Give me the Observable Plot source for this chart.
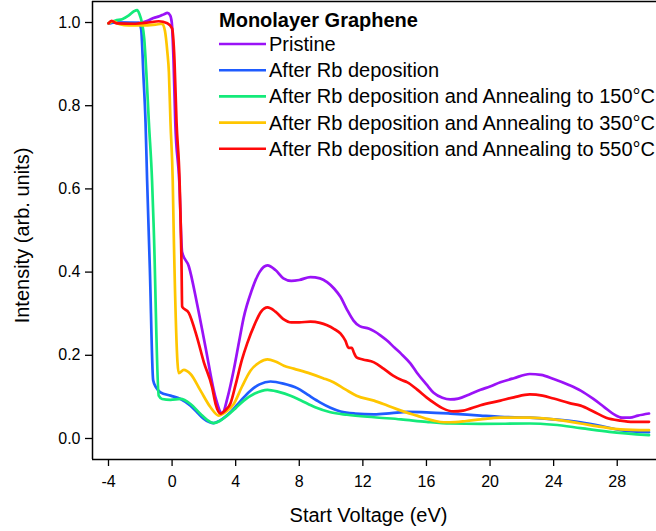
<!DOCTYPE html>
<html><head><meta charset="utf-8">
<script src="https://cdn.jsdelivr.net/npm/d3@7"></script>
<script src="https://cdn.jsdelivr.net/npm/@observablehq/plot@0.6"></script>
<style>body{margin:0;background:#fff}</style>
</head><body><div id="chart"></div>
<script>
const legendTitle = "Monolayer Graphene";
const seriesNames = ["Pristine","After Rb deposition","After Rb deposition and Annealing to 150°C","After Rb deposition and Annealing to 350°C","After Rb deposition and Annealing to 550°C"];
const seriesColors = ["#9a12f7","#1f5cff","#14ea7a","#ffc600","#ff0a0a"];
const xTicks = [-4,0,4,8,12,16,20,24,28];
const yTicks = [0,0.2,0.4,0.6,0.8,1.0];

const pristine = [[-4,0.998],[-3.6,1.0],[-3.0,0.999],[-2.5,0.998],[-1.9,1.0],[-1.5,1.005],[-1.17,1.011],[-0.8,1.015],[-0.5,1.02],[-0.3,1.023],[-0.12,1.017],[-0.02,1.0],[0.09,0.91],[0.2,0.76],[0.45,0.62],[0.63,0.448],[1.05,0.414],[1.57,0.324],[2.1,0.22],[2.73,0.099],[3.15,0.06],[3.5,0.1],[3.88,0.165],[4.2,0.23],[4.5,0.29],[5.0,0.355],[5.5,0.4],[6.0,0.416],[6.5,0.405],[7.0,0.385],[7.5,0.379],[8.0,0.381],[8.7,0.388],[9.3,0.385],[9.75,0.376],[10.2,0.36],[10.6,0.34],[11.0,0.31],[11.4,0.284],[11.8,0.27],[12.4,0.264],[12.7,0.258],[13.1,0.248],[13.5,0.236],[14.0,0.218],[14.4,0.204],[15.0,0.18],[15.4,0.158],[16.0,0.13],[16.45,0.11],[17.0,0.098],[17.5,0.094],[18.0,0.096],[18.7,0.106],[19.4,0.117],[20.0,0.125],[20.65,0.135],[21.5,0.145],[22.5,0.155],[23.2,0.153],[24.0,0.143],[25.0,0.128],[25.7,0.115],[26.5,0.095],[27.2,0.075],[27.8,0.058],[28.3,0.05],[28.8,0.05],[29.3,0.055],[30.0,0.06]];
const rbDeposition = [[-4,0.998],[-3.5,1.0],[-3.0,1.0],[-2.5,1.0],[-2.1,0.999],[-1.95,0.985],[-1.8,0.87],[-1.67,0.76],[-1.57,0.62],[-1.4,0.41],[-1.19,0.14],[-1.0,0.122],[-0.73,0.111],[-0.1,0.103],[0.53,0.095],[1.16,0.079],[1.6,0.062],[2.0,0.047],[2.62,0.037],[3.0,0.043],[3.67,0.063],[4.3,0.09],[4.93,0.115],[5.5,0.13],[6.19,0.137],[7.0,0.132],[7.87,0.121],[8.5,0.106],[9.3,0.087],[9.96,0.074],[10.6,0.065],[11.5,0.06],[12.7,0.058],[13.8,0.061],[14.8,0.064],[16,0.063],[17.5,0.06],[19.4,0.055],[20.65,0.052],[22.5,0.05],[24,0.046],[25.7,0.039],[27,0.03],[28.2,0.02],[30,0.015]];
const anneal150 = [[-4,0.998],[-3.56,1.005],[-3.14,1.008],[-2.72,1.017],[-2.4,1.027],[-2.2,1.03],[-2.05,1.02],[-1.9,1.0],[-1.75,0.96],[-1.62,0.88],[-1.46,0.76],[-1.26,0.62],[-1.15,0.5],[-0.84,0.103],[-0.63,0.095],[-0.1,0.093],[0.53,0.095],[1.16,0.083],[1.79,0.059],[2.2,0.045],[2.62,0.037],[3.0,0.042],[3.46,0.055],[4.0,0.073],[4.51,0.091],[5.2,0.108],[6.0,0.117],[6.7,0.112],[7.45,0.103],[8.08,0.092],[9.0,0.075],[9.96,0.063],[11,0.057],[12.7,0.051],[14.4,0.046],[16,0.04],[17.5,0.036],[19.4,0.035],[22.5,0.036],[24,0.033],[25.7,0.025],[27.5,0.016],[30,0.008]];
const anneal350 = [[-4,0.998],[-3.7,1.003],[-3.3,0.996],[-2.72,0.993],[-2.0,0.993],[-1.04,0.995],[-0.62,0.997],[-0.45,0.98],[-0.3,0.93],[-0.2,0.88],[-0.1,0.76],[0.04,0.62],[0.1,0.5],[0.42,0.157],[0.74,0.165],[1.16,0.155],[1.79,0.115],[2.42,0.075],[2.94,0.055],[3.3,0.062],[3.88,0.083],[4.4,0.125],[4.93,0.163],[5.5,0.183],[6.0,0.19],[6.5,0.185],[7.03,0.175],[7.65,0.168],[8.7,0.156],[9.5,0.145],[10.15,0.135],[10.9,0.118],[11.6,0.103],[12.7,0.091],[13.5,0.08],[14.4,0.067],[15.4,0.055],[16.45,0.043],[17.1,0.039],[17.5,0.039],[18.5,0.042],[19.4,0.046],[20.65,0.05],[22.5,0.05],[24,0.046],[25.7,0.036],[27,0.028],[28.2,0.022],[30,0.02]];
const anneal550 = [[-4,0.998],[-3.8,1.004],[-3.5,0.998],[-2.3,0.997],[-1.5,1.0],[-0.84,1.003],[-0.3,0.998],[0.0,0.986],[0.15,0.91],[0.28,0.76],[0.47,0.62],[0.6,0.4],[0.63,0.317],[1.05,0.302],[1.57,0.243],[2.0,0.183],[2.52,0.123],[2.73,0.084],[3.04,0.06],[3.35,0.068],[3.67,0.084],[4.0,0.13],[4.4,0.19],[4.72,0.228],[5.2,0.275],[5.6,0.305],[6.0,0.315],[6.5,0.305],[7.0,0.287],[7.5,0.279],[8.0,0.279],[8.7,0.281],[9.3,0.278],[9.75,0.272],[10.2,0.263],[10.6,0.252],[10.9,0.235],[11.1,0.218],[11.3,0.218],[11.45,0.205],[11.6,0.195],[12.0,0.19],[12.7,0.183],[13.3,0.168],[13.9,0.151],[14.4,0.141],[14.8,0.135],[15.4,0.118],[16.0,0.099],[16.5,0.085],[17.0,0.073],[17.7,0.065],[18.3,0.067],[19.4,0.08],[20.65,0.091],[21.5,0.099],[22.5,0.106],[23.3,0.103],[24.0,0.096],[25.0,0.085],[25.7,0.079],[26.5,0.065],[27.3,0.05],[28.2,0.043],[29,0.04],[30,0.04]];

const allSeries = [pristine, rbDeposition, anneal150, anneal350, anneal550];
const data = allSeries.flatMap((pts, i) => pts.map(([x, y]) => ({series: seriesNames[i], x, y})));

const xDomain = [-5.006, 30.47];
const yDomain = [-0.0505, 1.0505];
const font = "'Liberation Sans', Arial, Helvetica, sans-serif";

const plot = Plot.plot({
  width: 656, height: 531,
  marginLeft: 92, marginRight: 0, marginTop: 1, marginBottom: 72,
  style: {fontFamily: font, fontSize: "15px", background: "#fff", color: "#000", overflow: "visible"},
  x: {domain: xDomain},
  y: {domain: yDomain},
  color: {domain: seriesNames, range: seriesColors},
  marks: [
    Plot.axisX({ticks: xTicks, tickSize: 7, tickPadding: 9, label: null, fontSize: 16, strokeWidth: 1.3,
      tickFormat: d => d < 0 ? "-" + Math.abs(d) : String(d)}),
    Plot.axisY({ticks: yTicks, tickSize: 7, tickPadding: 5, label: null, fontSize: 16, strokeWidth: 1.3,
      tickFormat: d3.format(".1f")}),
    Plot.ruleX([xDomain[0]], {stroke: "#000", strokeWidth: 1.5}),
    Plot.ruleY([yDomain[0], yDomain[1]], {stroke: "#000", strokeWidth: 1.5}),
    Plot.line(data, {x: "x", y: "y", z: "series", stroke: "series", strokeWidth: 2.7, curve: "monotone-x"}),
    Plot.text(["Start Voltage (eV)"], {frameAnchor: "bottom", dy: 56, dx: -6, fontSize: 20, textAnchor: "middle", lineAnchor: "middle"}),
    Plot.text(["Intensity (arb. units)"], {frameAnchor: "left", dx: -70, dy: 5, rotate: -90, fontSize: 20, textAnchor: "middle", lineAnchor: "middle"})
  ]
});

const svg = d3.select(plot);
const lg = svg.append("g").attr("font-family", font).attr("text-anchor", "start");
lg.append("text").attr("x", 219).attr("y", 20).attr("dy", "0.35em").attr("text-anchor", "start")
  .attr("font-size", 20).attr("font-weight", "bold").attr("fill", "#000").text(legendTitle);
seriesNames.forEach((name, i) => {
  const yy = 44 + i * 26.2;
  lg.append("line").attr("x1", 219).attr("x2", 266).attr("y1", yy).attr("y2", yy)
    .attr("stroke", seriesColors[i]).attr("stroke-width", 2.6);
  lg.append("text").attr("x", 269).attr("y", yy).attr("dy", "0.35em").attr("text-anchor", "start")
    .attr("font-size", 20).attr("fill", "#000").text(name);
});

document.getElementById("chart").appendChild(plot);
</script>
</body></html>
